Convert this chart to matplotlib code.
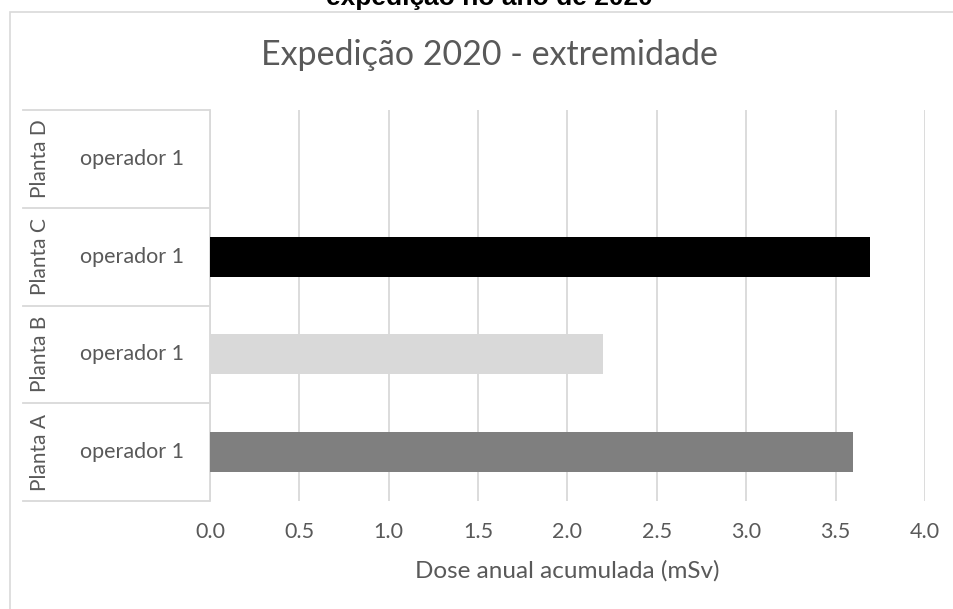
import matplotlib.pyplot as plt
from matplotlib.patches import Rectangle
from matplotlib import transforms

# Data
plantas = ['Planta A', 'Planta B', 'Planta C', 'Planta D']
operadores = ['operador 1', 'operador 1', 'operador 1', 'operador 1']
dose = [3.60, 2.20, 3.69, 0.0]
cores = ['#7f7f7f', '#d9d9d9', '#000000', '#ffffff']
xticks = [0.0, 0.5, 1.0, 1.5, 2.0, 2.5, 3.0, 3.5, 4.0]

W, H = 954, 609
fig = plt.figure(figsize=(W / 100, H / 100), dpi=100)
plt.rcParams['font.family'] = ['Lato', 'DejaVu Sans']
txt = '#595959'
grid = '#d9d9d9'

# chart border (cut by the image edges on right/bottom)
fig.patches.append(Rectangle((10 / W, -0.1), 1.2, 1 - 12 / H + 0.1, transform=fig.transFigure,
                             fill=False, edgecolor=grid, linewidth=1.2))

# cropped title from the document
fig.text(489 / W, 1 - 5 / H, 'expedição no ano de 2020', ha='center', va='baseline',
         fontsize=19, fontweight='bold', family='Liberation Sans', color='black')

ax = fig.add_axes([210 / W, 1 - 501 / H, 715 / W, 391 / H])
y = range(len(plantas))
ax.barh(y, dose, height=0.41, color=cores, zorder=3)
ax.set_xlim(0, 4)
ax.set_ylim(-0.5, 3.5)
ax.set_xticks(xticks)
ax.set_xticklabels([f'{v:.1f}' for v in xticks], fontsize=15.5, color=txt)
ax.tick_params(axis='x', length=0, pad=15)
ax.set_yticks([])
ax.grid(axis='x', color=grid, linewidth=1.3, zorder=0)
for s in ['top', 'right', 'bottom']:
    ax.spines[s].set_visible(False)
ax.spines['left'].set_color(grid)
ax.spines['left'].set_linewidth(1.3)
ax.set_xlabel('Dose anual acumulada (mSv)', fontsize=17.5, color=txt, labelpad=13)

# two-level category axis
tr = transforms.blended_transform_factory(fig.transFigure, ax.transData)
for b in [-0.5, 0.5, 1.5, 2.5, 3.5]:
    ax.plot([23 / W, 209 / W], [b, b], transform=tr, color=grid, linewidth=1.3, clip_on=False)
for i, (p, o) in enumerate(zip(plantas, operadores)):
    ax.text(40 / W, i, p, transform=tr, rotation=90, ha='center', va='center',
            fontsize=15, color=txt)
    ax.text(132 / W, i, o, transform=tr, ha='center', va='center', fontsize=15.5, color=txt)

fig.text(489 / W, 1 - 55 / H, 'Expedição 2020 - extremidade', ha='center', va='center',
         fontsize=24.5, color=txt)

fig.savefig('out.png', dpi=100)
